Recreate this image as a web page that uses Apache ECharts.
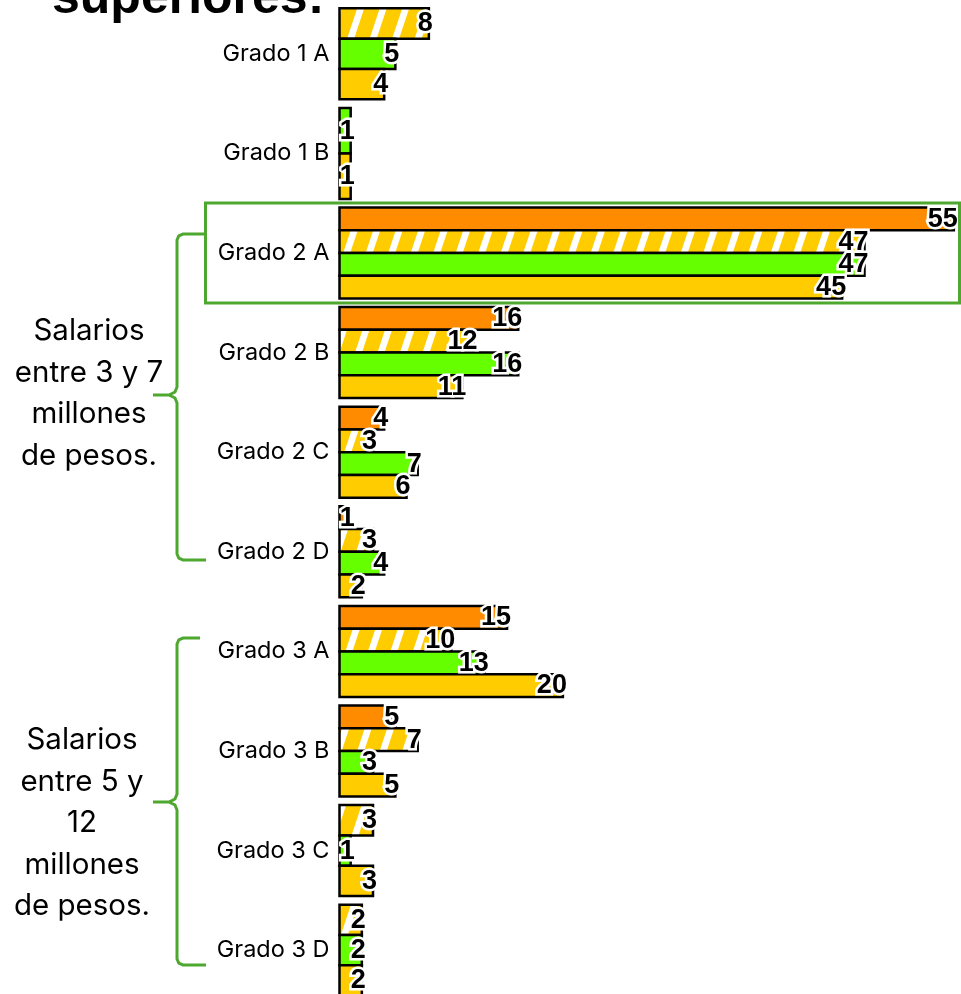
<!DOCTYPE html>
<html>
<head>
<meta charset="utf-8">
<script src="https://cdn.jsdelivr.net/npm/echarts@6/dist/echarts.min.js"></script>
<style>
html,body{margin:0;padding:0;background:#fff;}
#chart{width:961px;height:994px;}
</style>
</head>
<body>
<div id="chart"></div>
<script>
const categories = ['Grado 1 A','Grado 1 B','Grado 2 A','Grado 2 B','Grado 2 C','Grado 2 D','Grado 3 A','Grado 3 B','Grado 3 C','Grado 3 D'];
const seriesOrange  = [null, null, 55, 16, 4, 1, 15, 5, null, null];
const seriesHatched = [8, null, 47, 12, 3, 3, 10, 7, 3, 2];
const seriesGreen   = [5, 1, 47, 16, 7, 4, 13, 3, 1, 2];
const seriesYellow  = [4, 1, 45, 11, 6, 2, 20, 5, 3, 2];
const titleText = 'superiores:';
const groupLabels = ['Salarios\nentre 3 y 7\nmillones\nde pesos.', 'Salarios\nentre 5 y\n12\nmillones\nde pesos.'];

function hatchCanvas(){
  const P = 22.5, w = 7;
  const c = document.createElement('canvas');
  c.width = 45; c.height = 135;
  const ctx = c.getContext('2d');
  ctx.fillStyle = '#FFCC00';
  ctx.fillRect(0,0,c.width,c.height);
  ctx.fillStyle = '#FFFFFF';
  for (let k = -6; k <= 6; k++) {
    const x0 = k * P;
    ctx.beginPath();
    ctx.moveTo(x0, c.height);
    ctx.lineTo(x0 + w, c.height);
    ctx.lineTo(x0 + w + 2 * P, 0);
    ctx.lineTo(x0 + 2 * P, 0);
    ctx.closePath();
    ctx.fill();
  }
  return c;
}

const allSeries = [
  {name:'orange', values: seriesOrange, fill:'#FF8C00'},
  {name:'hatched', values: seriesHatched, fill:{image: hatchCanvas(), repeat:'repeat'}},
  {name:'green', values: seriesGreen, fill:'#66FF00'},
  {name:'yellow', values: seriesYellow, fill:'#FFCC00'}
];

const slots = categories.map((_, ci) =>
  allSeries.map((s, si) => s.values[ci] != null ? si : -1).filter(i => i >= 0));

function buildData(si){
  const out = [];
  allSeries[si].values.forEach((v, ci) => {
    if (v == null) return;
    out.push([v, ci, slots[ci].indexOf(si), slots[ci].length]);
  });
  return out;
}

function makeRender(fill){
  return function(params, api){
    const v = api.value(0), c = api.value(1), slot = api.value(2), cnt = api.value(3);
    const start = api.coord([0, c]);
    const end = api.coord([v, c]);
    const band = api.size([0, 1])[1];
    const area = band * 0.914;
    const h = area / cnt;
    const y0 = start[1] - area / 2 + slot * h;
    return {
      type: 'group',
      children: [
        {type:'rect', shape:{x:start[0], y:y0, width:end[0]-start[0], height:h},
         style:{fill: fill, stroke:'#000', lineWidth:2.5}, z2: 1},
        {type:'text', z2: 100,
         style:{text: String(v), x: end[0] + 4, y: y0 + h/2 + 0.5, align:'right', verticalAlign:'middle',
                font:'bold 27px "Liberation Sans Narrow", "Liberation Sans", Arial, sans-serif', fill:'#000', stroke:'#fff', lineWidth:5}}
      ]
    };
  };
}

function bracket(top, mid, bottom, topEnd, botEnd){
  const x = 177, r = 6, tip = 153;
  return [
    [topEnd, top], [x + r, top], [x + 1.8, top + 1.8], [x, top + r],
    [x, mid - 8], [x - 2, mid - 3], [x - 8, mid], [tip, mid], [x - 8, mid], [x - 2, mid + 3], [x, mid + 8],
    [x, bottom - r], [x + 1.8, bottom - 1.8], [x + r, bottom], [botEnd, bottom]
  ];
}

const chart = echarts.init(document.getElementById('chart'), null, {renderer:'canvas'});
const option = {
  backgroundColor: '#fff',
  animation: false,
  grid: {left: 339.5, right: 0, top: 4, height: 996, outerBoundsMode: 'none', containLabel: false},
  xAxis: {type:'value', min:0, max:55.64, show:false},
  yAxis: {
    type:'category', data: categories, inverse: true,
    axisLine:{show:false}, axisTick:{show:false}, splitLine:{show:false},
    axisLabel:{color:'#000', fontSize:23.5, fontFamily:'Inter, "Liberation Sans", sans-serif', margin:10}
  },
  series: allSeries.map((s, si) => ({
    type:'custom', name: s.name, renderItem: makeRender(s.fill),
    encode:{x:0, y:1}, data: buildData(si)
  })),
  graphic: [
    {type:'text', x: 52, y: -1, z: 10,
     style:{text: titleText, font:'bold 50px "Liberation Sans", Arial, sans-serif', fill:'#000', align:'left', verticalAlign:'middle'}},
    {type:'rect', z: 10, shape:{x:205.5, y:203, width:754, height:100},
     style:{fill:null, stroke:'#4EA72E', lineWidth:3}},
    {type:'polyline', z: 10, shape:{points: bracket(234, 395, 560, 205, 206)},
     style:{fill:null, stroke:'#4EA72E', lineWidth:3}},
    {type:'polyline', z: 10, shape:{points: bracket(638, 802, 965, 200, 206)},
     style:{fill:null, stroke:'#4EA72E', lineWidth:3}},
    {type:'text', x: 89, y: 393.5, z: 10,
     style:{text: groupLabels[0], font:'29.5px Inter, "Liberation Sans", sans-serif', lineHeight: 41.7, fill:'#000', align:'center', verticalAlign:'middle'}},
    {type:'text', x: 82, y: 823.5, z: 10,
     style:{text: groupLabels[1], font:'29.5px Inter, "Liberation Sans", sans-serif', lineHeight: 41.5, fill:'#000', align:'center', verticalAlign:'middle'}}
  ]
};
chart.setOption(option);
</script>
</body>
</html>
